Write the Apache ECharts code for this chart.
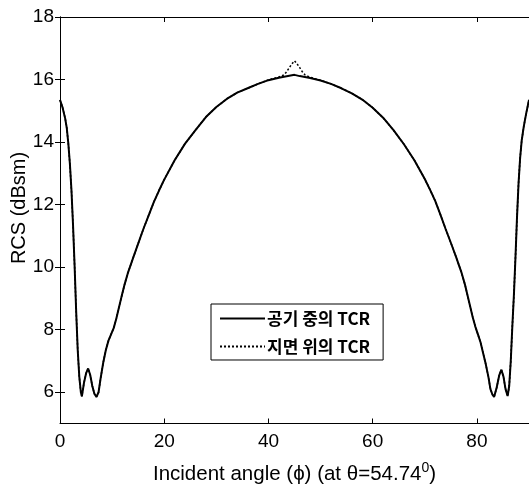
<!DOCTYPE html>
<html><head><meta charset="utf-8">
<script src="https://cdn.jsdelivr.net/npm/echarts@6/dist/echarts.min.js"></script>
<style>html,body{margin:0;padding:0;background:#fff}#c{width:529px;height:490px}</style>
</head><body><div id="c"></div>
<script>
// Incident angle (deg)
const angles = [0,0.5,1,1.3,1.6,1.9,2.2,2.5,2.8,3.1,3.4,3.7,4.0,4.2,4.6,5,5.4,5.8,6.2,6.6,7.0,7.4,7.8,8.3,8.8,9.3,9.8,10.3,10.8,11.3,11.8,12.4,13,14,15,16,17,18,19,20,22,24,26,28,30,32,34,36,38,40,42,43,44,45,46,47,48,50,52,54,56,58,60,62,64,66,68,70,71,72,73,74,75,76,77,77.7,78.2,78.7,79.2,79.7,80.2,80.7,81.2,81.7,82.2,82.6,83,83.3,83.8,84.3,84.7,85.1,85.5,85.9,86.2,86.5,86.8,87.1,87.4,87.7,88,88.3,88.6,89,89.5,90];
// RCS in air (dBsm)
const rcsAir = [15.35,15.1,14.75,14.45,13.95,13.3,12.45,11.35,10.05,8.6,7.35,6.5,6.0,5.87,6.3,6.6,6.76,6.55,6.2,5.95,5.85,6.0,6.45,6.95,7.35,7.65,7.85,8.05,8.35,8.7,9.05,9.45,9.8,10.28,10.75,11.22,11.65,12.08,12.45,12.8,13.42,13.95,14.38,14.8,15.12,15.38,15.58,15.72,15.86,15.98,16.06,16.09,16.12,16.15,16.11,16.08,16.05,15.97,15.86,15.72,15.56,15.36,15.1,14.78,14.38,13.93,13.42,12.82,12.48,12.12,11.68,11.22,10.78,10.33,9.85,9.45,9.1,8.75,8.4,8.1,7.85,7.6,7.25,6.9,6.5,6.1,5.92,5.85,6.15,6.55,6.72,6.5,6.1,5.88,6.2,7.0,8.1,9.1,10.3,11.6,12.7,13.5,14.05,14.5,14.95,15.35];
// RCS on ground (dBsm) — differs from air only near the peak
const groundPeakAngles = [40,42,43,43.5,44,44.5,45,45.5,46,46.5,47,48,50];
const groundPeakRcs    = [15.99,16.08,16.15,16.25,16.38,16.5,16.6,16.5,16.38,16.25,16.15,16.07,15.98];
const xTicks = [0,20,40,60,80];
const yTicks = [6,8,10,12,14,16,18];
const seriesNames = ['공기 중의 TCR','지면 위의 TCR'];

const airData = angles.map((a,i)=>[a,rcsAir[i]]);
const groundData = angles.map((a,i)=>[a,rcsAir[i]]).filter(p=>p[0]<40||p[0]>50)
  .concat(groundPeakAngles.map((a,i)=>[a,groundPeakRcs[i]])).sort((p,q)=>p[0]-q[0]);

const font = 'Liberation Sans, Arial, sans-serif';
const ch = echarts.init(document.getElementById('c'));
const axLine = {show:true,lineStyle:{color:'#000',width:1}};
ch.setOption({
  animation:false,
  backgroundColor:'#fff',
  grid:{left:60,top:17,width:470,height:408,containLabel:false},
  legend:{
    orient:'vertical',left:211,top:304,
    data:seriesNames,
    itemWidth:45,itemHeight:14,itemGap:11,
    padding:[6,13,5,8],
    borderColor:'#000',borderWidth:1,backgroundColor:'#fff',borderRadius:0,
    itemStyle:{opacity:0},
    textStyle:{color:'#000',fontSize:17,fontFamily:'Noto Sans CJK KR',fontWeight:'bold',padding:[0,0,0,-3]}
  },
  graphic:[{
    type:'text',x:19,y:208,rotation:Math.PI/2,
    style:{text:'RCS (dBsm)',fill:'#000',font:'20px '+font,align:'center',verticalAlign:'middle'}
  }],
  xAxis:[{
    type:'value',min:0,max:90,position:'bottom',
    axisLine:axLine,
    axisTick:{show:true,inside:true,length:5,customValues:xTicks,lineStyle:{color:'#000'}},
    axisLabel:{customValues:xTicks,color:'#000',fontSize:19,fontFamily:font,margin:9},
    splitLine:{show:false},
    name:'Incident angle (ϕ) (at θ=54.74{s|0})',
    nameLocation:'middle',nameGap:38,
    nameTextStyle:{color:'#000',fontSize:20.5,fontFamily:font,
      rich:{s:{fontSize:14,fontFamily:font,color:'#000',verticalAlign:'top',padding:[0,0,12,0]}}}
  },{
    type:'value',min:0,max:90,position:'top',
    axisLine:axLine,
    axisTick:{show:true,inside:true,length:5,customValues:xTicks,lineStyle:{color:'#000'}},
    axisLabel:{show:false},splitLine:{show:false}
  }],
  yAxis:[{
    type:'value',min:5,max:18,position:'left',
    axisLine:axLine,
    axisTick:{show:true,inside:true,length:5,customValues:yTicks,lineStyle:{color:'#000'}},
    axisLabel:{customValues:yTicks,color:'#000',fontSize:19,fontFamily:font,margin:6},
    splitLine:{show:false}
  },{
    type:'value',min:5,max:18,position:'right',
    axisLine:axLine,
    axisTick:{show:true,inside:true,length:5,customValues:yTicks,lineStyle:{color:'#000'}},
    axisLabel:{show:false},splitLine:{show:false}
  }],
  series:[{
    name:seriesNames[1],type:'line',data:groundData,showSymbol:false,symbol:'none',z:2,
    lineStyle:{color:'#000',width:1.5,type:[2,2]},itemStyle:{color:'#000'}
  },{
    name:seriesNames[0],type:'line',data:airData,showSymbol:false,symbol:'none',z:3,
    lineStyle:{color:'#000',width:2},itemStyle:{color:'#000'}
  }]
});
</script></body></html>
